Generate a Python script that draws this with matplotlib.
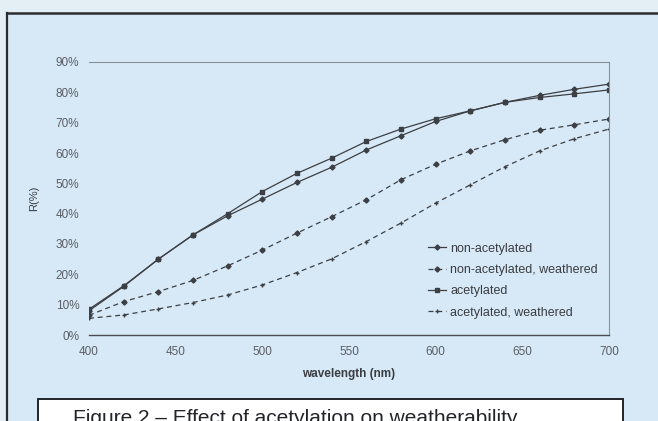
import matplotlib.pyplot as plt
from matplotlib.patches import Rectangle
from matplotlib.lines import Line2D
from matplotlib.ticker import FuncFormatter

# reflectance R(%) against wavelength, every 20 nm
wavelength = [400, 420, 440, 460, 480, 500, 520, 540, 560, 580, 600, 620, 640, 660, 680, 700]
non_acetylated = [8.0, 16.0, 25.0, 33.0, 39.3, 44.8, 50.3, 55.3, 61.0, 65.7, 70.4, 73.9, 76.7, 79.0, 81.0, 82.7]
non_acetylated_weathered = [6.5, 11.0, 14.3, 18.0, 22.8, 28.0, 33.6, 39.0, 44.6, 51.2, 56.3, 60.7, 64.4, 67.5, 69.3, 71.2]
acetylated = [8.5, 16.2, 25.0, 33.0, 40.0, 47.3, 53.3, 58.3, 63.8, 67.9, 71.3, 73.9, 76.7, 78.3, 79.5, 80.8]
acetylated_weathered = [5.5, 6.6, 8.6, 10.7, 13.2, 16.5, 20.6, 25.1, 30.8, 36.9, 43.5, 49.5, 55.5, 60.7, 64.7, 67.9]

x_ticks = [400, 450, 500, 550, 600, 650, 700]
y_ticks = [0, 10, 20, 30, 40, 50, 60, 70, 80, 90]
caption = "Figure 2 \u2013 Effect of acetylation on weatherability"

BG = '#d7e9f6'
INK = '#3c3f44'
W, H = 658, 421

plt.rcParams['font.family'] = ['Liberation Sans', 'DejaVu Sans']

fig = plt.figure(figsize=(W / 100, H / 100), dpi=100)
fig.patch.set_facecolor(BG)

# page margin and border
fig.add_artist(Rectangle((0, 1 - 13 / H), 1, 13 / H, transform=fig.transFigure,
                         facecolor='#e4eef5', edgecolor='none'))
fig.add_artist(Rectangle((0, 0), 6 / W, 1, transform=fig.transFigure,
                         facecolor='#e4eef5', edgecolor='none'))
fig.add_artist(Line2D([7 / W, 1], [1 - 13 / H, 1 - 13 / H], transform=fig.transFigure,
                      color='#2a2c30', lw=1.8))
fig.add_artist(Line2D([7 / W, 7 / W], [0, 1 - 13 / H], transform=fig.transFigure,
                      color='#2a2c30', lw=1.6))

ax = fig.add_axes([89 / W, (H - 335) / H, 520 / W, 273 / H])
ax.set_facecolor(BG)

ax.plot(wavelength, non_acetylated, '-', color=INK, lw=0.9, marker='D', ms=2.6,
        label='non-acetylated')
ax.plot(wavelength, non_acetylated_weathered, '--', color=INK, lw=0.9, marker='D', ms=2.6,
        dashes=(4, 3), label='non-acetylated, weathered')
ax.plot(wavelength, acetylated, '-', color=INK, lw=0.9, marker='s', ms=3,
        label='acetylated')
ax.plot(wavelength, acetylated_weathered, '--', color=INK, lw=0.9, marker='+', ms=3.5,
        dashes=(4, 3), label='acetylated, weathered')

ax.set_xlim(400, 700)
ax.set_ylim(0, 90)
ax.set_xticks(x_ticks)
ax.set_yticks(y_ticks)
ax.yaxis.set_major_formatter(FuncFormatter(lambda v, p: f'{v:.0f}%'))
ax.tick_params(axis='y', length=0, pad=7, labelsize=8.5, labelcolor='#5a5e66')
ax.tick_params(axis='x', length=0, pad=8, labelsize=8.5, labelcolor='#5a5e66')

for side in ('top', 'right'):
    ax.spines[side].set_color('#8a9099')
    ax.spines[side].set_linewidth(0.8)
ax.spines['left'].set_visible(False)
ax.spines['bottom'].set_color('#4a4d52')
ax.spines['bottom'].set_linewidth(1.0)

ax.set_xlabel('wavelength (nm)', fontsize=8.5, color='#3a3d42', fontweight='bold', labelpad=7)
ax.set_ylabel('R(%)', fontsize=8, color='#3a3d42', labelpad=12)

ax.legend(loc='lower right', bbox_to_anchor=(1.0, 0.018), frameon=False, fontsize=9,
          handlelength=1.5, handletextpad=0.3, labelspacing=0.75,
          labelcolor='#3a3d42')

# caption box, cut by the lower edge
fig.add_artist(Rectangle((38 / W, -0.05), (623 - 38) / W, (H - 399) / H + 0.05,
                         transform=fig.transFigure, facecolor='white',
                         edgecolor='#222428', lw=1.4))
fig.text(73 / W, -3 / H, caption, fontsize=15, color='#222428', va='baseline', ha='left')

fig.savefig('out.png', dpi=100, facecolor=fig.get_facecolor())
